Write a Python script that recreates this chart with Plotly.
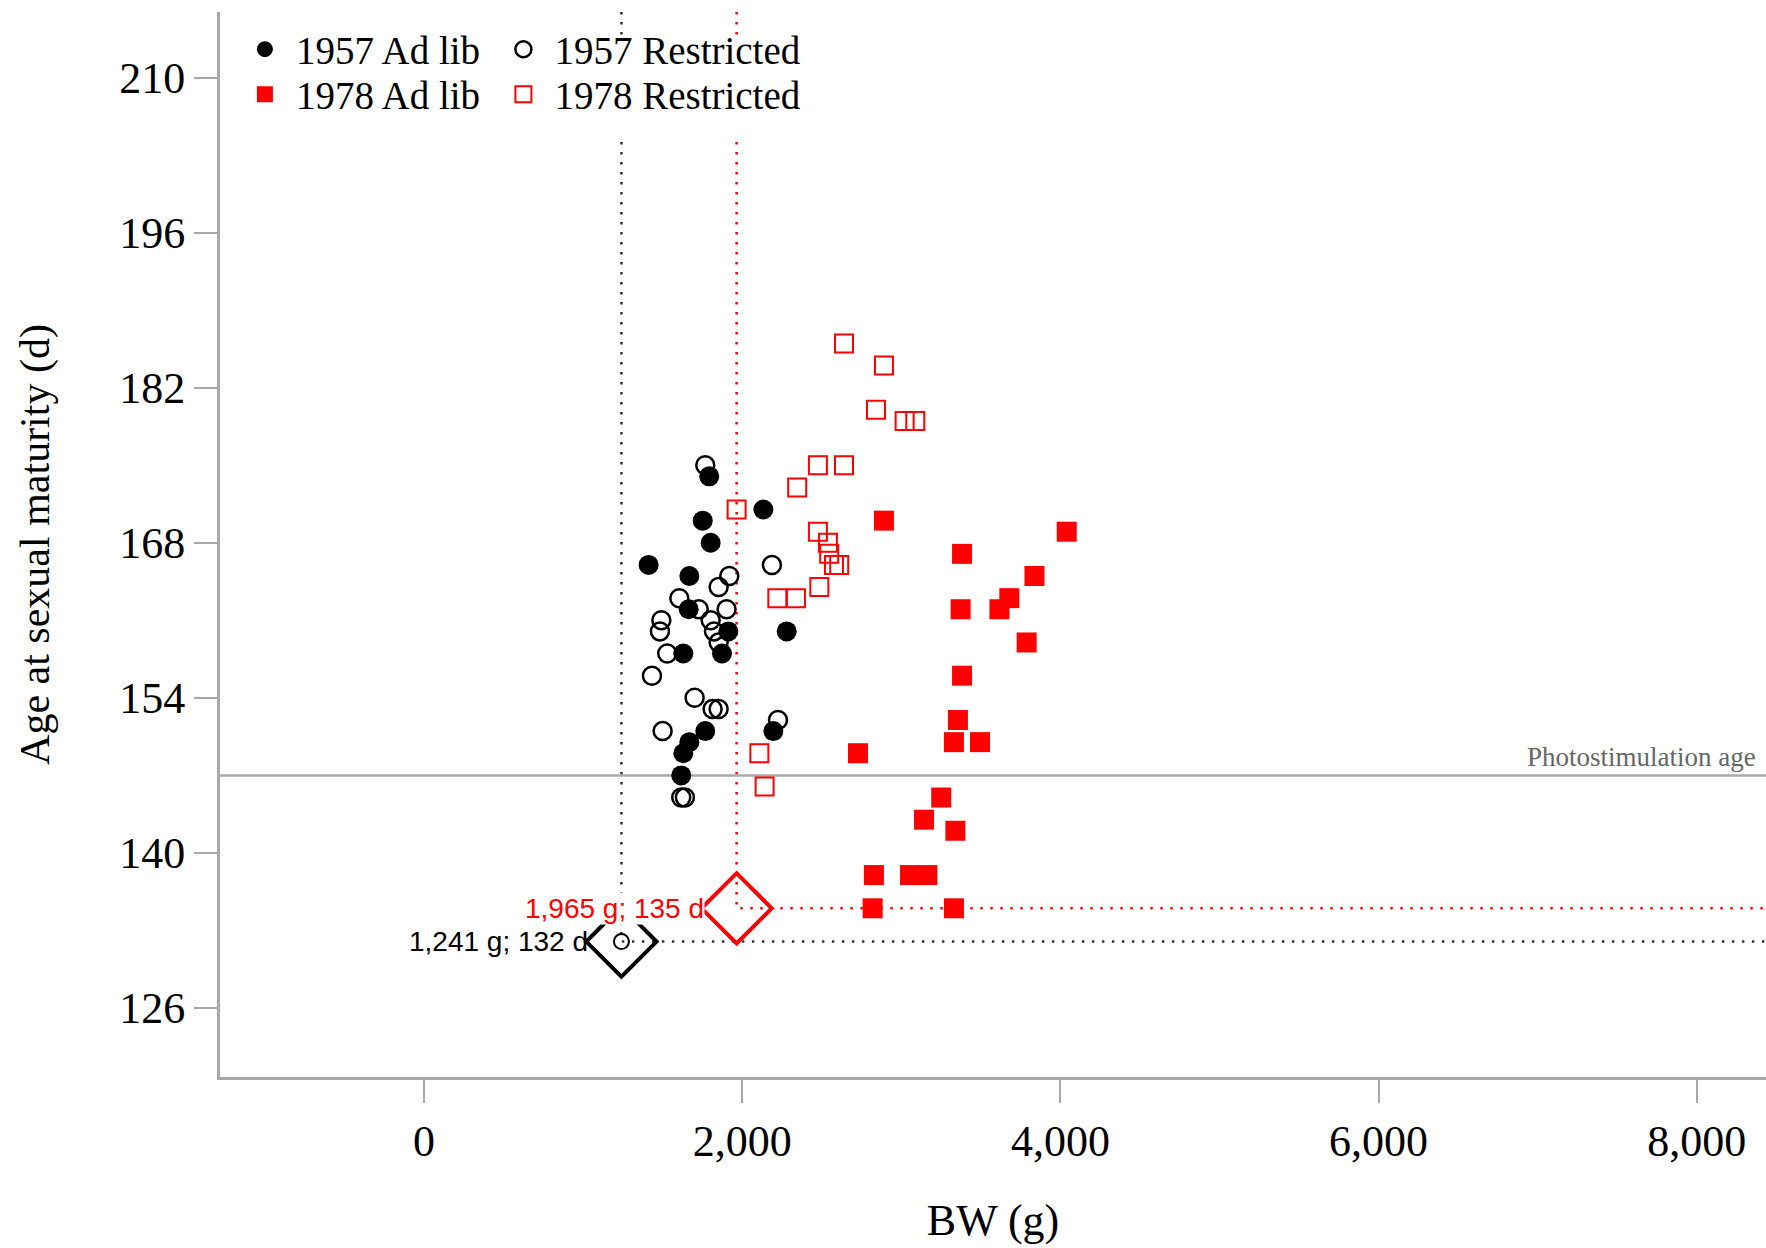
import plotly.graph_objects as go

# ---------------- data ----------------
adlib57_bw = [1793, 2133, 1752, 1802, 1412, 1668, 1664, 1913, 2280, 1630, 1873, 1768, 2196, 1668, 1630, 1617]
adlib57_age = [174, 171, 170, 168, 166, 165, 162, 160, 160, 158, 158, 151, 151, 150, 149, 147]

restr57_bw = [1768, 2187, 1919, 1852, 1605, 1727, 1902, 1492, 1802, 1483, 1823, 1852, 1529, 1433,
              1701, 1814, 1852, 1500, 2225, 1617, 1640]
restr57_age = [175, 166, 165, 164, 163, 162, 162, 161, 161, 160, 160, 159, 158, 156,
               154, 153, 153, 151, 152, 145, 145]

adlib78_bw = [2891, 4040, 3382, 3837, 3679, 3373, 3617, 3788, 3382, 2728, 3356, 3331, 3495,
              3251, 3143, 3340, 2828, 3055, 3164, 2820, 3331]
adlib78_age = [170, 169, 167, 165, 163, 162, 162, 159, 156, 149, 152, 150, 150,
               145, 143, 142, 138, 138, 138, 135, 135]

restr78_bw = [2640, 2891, 2841, 3021, 3088, 2476, 2640, 2346, 1965, 2476, 2539, 2547, 2577, 2610,
              2485, 2221, 2338, 2108, 2141]
restr78_age = [186, 184, 180, 179, 179, 175, 175, 173, 171, 169, 168, 167, 166, 166,
               164, 163, 163, 149, 146]

mean_names = ["1957", "1978"]
mean_bw = [1241, 1965]
mean_age = [132, 135]
mean_labels = ["1,241 g; 132 d", "1,965 g; 135 d"]

photostim_age = 147
photostim_label = "Photostimulation age"

x_range = [-1282, 8435]
y_range = [119.77, 215.92]
x_ticks = [0, 2000, 4000, 6000, 8000]
y_ticks = [126, 140, 154, 168, 182, 196, 210]

# ---------------- figure ----------------
SERIF = "Liberation Serif, Times New Roman, serif"
SANS = "Liberation Sans, Arial, sans-serif"
RED = "#ff0000"

fig = go.Figure()

# reference dotted lines (drawn first, beneath points)
for bw, age, col in zip(mean_bw, mean_age, ["#333333", RED]):
    fig.add_trace(go.Scatter(
        x=[bw, bw, x_range[1]], y=[y_range[1], age, age], mode="lines",
        line=dict(color=col, width=2.5, dash="2.5px,7.5px"),
        showlegend=False, hoverinfo="skip"))

# photostimulation age line
fig.add_trace(go.Scatter(
    x=[x_range[0], x_range[1]], y=[photostim_age, photostim_age], mode="lines",
    line=dict(color="#aaaaaa", width=2.5), showlegend=False, hoverinfo="skip"))

fig.add_trace(go.Scatter(
    x=adlib57_bw, y=adlib57_age, mode="markers", name="1957 Ad lib", legend="legend",
    marker=dict(symbol="circle", size=20, color="black")))
fig.add_trace(go.Scatter(
    x=restr57_bw, y=restr57_age, mode="markers", name="1957 Restricted", legend="legend2",
    marker=dict(symbol="circle-open", size=18, color="black", line=dict(width=2.5))))
fig.add_trace(go.Scatter(
    x=adlib78_bw, y=adlib78_age, mode="markers", name="1978 Ad lib", legend="legend3",
    marker=dict(symbol="square", size=20, color=RED)))
fig.add_trace(go.Scatter(
    x=restr78_bw, y=restr78_age, mode="markers", name="1978 Restricted", legend="legend4",
    marker=dict(symbol="square-open", size=18, color=RED, line=dict(width=2))))

# mean markers
fig.add_trace(go.Scatter(
    x=mean_bw[:1], y=mean_age[:1], mode="markers", showlegend=False, hoverinfo="skip",
    marker=dict(symbol="circle-open", size=15, color="black", line=dict(width=2))))
fig.add_trace(go.Scatter(
    x=mean_bw, y=mean_age, mode="markers", showlegend=False, hoverinfo="skip",
    marker=dict(symbol="diamond-open", size=54, color=["black", RED], line=dict(width=4))))

# white panel behind the key (hides the dotted guides there)
fig.add_shape(type="rect", xref="paper", yref="paper", x0=0.0129, x1=0.378, y0=0.8798, y1=0.9775,
              fillcolor="white", line=dict(width=0), layer="above")

# labels
fig.add_annotation(x=mean_bw[0], y=mean_age[0], text=mean_labels[0], showarrow=False,
                   xanchor="right", yanchor="middle", xshift=-31,
                   font=dict(family=SANS, size=28, color="black"))
fig.add_annotation(x=mean_bw[1], y=mean_age[1], text=mean_labels[1], showarrow=False,
                   xanchor="right", yanchor="middle", xshift=-32, bgcolor="white", borderpad=0,
                   font=dict(family=SANS, size=28, color=RED))
fig.add_annotation(xref="paper", x=0.995, y=photostim_age, text=photostim_label, showarrow=False,
                   xanchor="right", yanchor="bottom", yshift=1,
                   font=dict(family=SERIF, size=27, color="#666666"))

axis_common = dict(showgrid=False, zeroline=False, showline=True, linecolor="#a8a8a8", linewidth=3,
                   ticks="outside", tickcolor="#a8a8a8", tickwidth=2, ticklen=23,
                   tickfont=dict(family=SERIF, size=44, color="black"),
                   mirror=False)

fig.update_xaxes(range=x_range, tickvals=x_ticks, tickformat=",d",
                 title=dict(text="BW (g)", font=dict(family=SERIF, size=44, color="black"), standoff=40),
                 **axis_common)
fig.update_yaxes(range=y_range, tickvals=y_ticks,
                 title=dict(text="Age at sexual maturity (d)", font=dict(family=SERIF, size=42, color="black"), standoff=57),
                 **axis_common)

legend_common = dict(orientation="v", xanchor="left", yanchor="top", bgcolor="rgba(0,0,0,0)",
                     font=dict(family=SERIF, size=39, color="black"), itemwidth=52,
                     tracegroupgap=0)

col_x = [0.009, 0.1762]
row_y = [0.995, 0.9527]

fig.update_layout(
    width=1766, height=1248,
    margin=dict(l=220, r=0, t=12, b=171, autoexpand=False),
    plot_bgcolor="white", paper_bgcolor="white",
    font=dict(family=SERIF, color="black"),
    legend=dict(x=col_x[0], y=row_y[0], **legend_common),
    legend2=dict(x=col_x[1], y=row_y[0], **legend_common),
    legend3=dict(x=col_x[0], y=row_y[1], **legend_common),
    legend4=dict(x=col_x[1], y=row_y[1], **legend_common),
)

fig.write_html("out.html")
